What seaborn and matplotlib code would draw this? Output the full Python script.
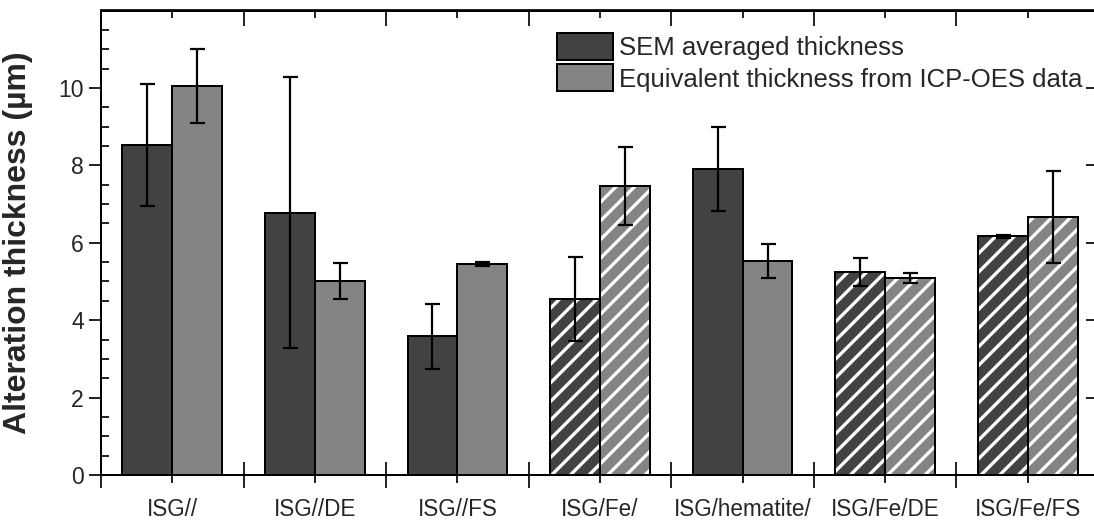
import numpy as np
import pandas as pd
import matplotlib
matplotlib.use("Agg")
import matplotlib.pyplot as plt
import seaborn as sns
from matplotlib.patches import Rectangle, Patch

# ---------------- data ----------------
categories = ["ISG//", "ISG//DE", "ISG//FS", "ISG/Fe/", "ISG/hematite/", "ISG/Fe/DE", "ISG/Fe/FS"]
series_names = ["SEM averaged thickness", "Equivalent thickness from ICP-OES data"]
sem_values = [8.52, 6.78, 3.59, 4.54, 7.90, 5.25, 6.17]
sem_errors = [1.57, 3.49, 0.84, 1.08, 1.08, 0.36, 0.04]
icp_values = [10.05, 5.01, 5.46, 7.46, 5.52, 5.09, 6.66]
icp_errors = [0.95, 0.46, 0.05, 1.01, 0.44, 0.12, 1.19]
hatched_categories = ["ISG/Fe/", "ISG/Fe/DE", "ISG/Fe/FS"]
y_ticks = [0, 2, 4, 6, 8, 10]
colors = ["#424242", "#848484"]

# ---------------- figure setup ----------------
DPI = 168
W, H = 1094, 521


def P(px):
    return px * 72.0 / DPI


sns.set_style("white")
plt.rcParams["font.family"] = ["Liberation Sans", "DejaVu Sans"]
plt.rcParams["hatch.linewidth"] = P(3.3)

fig = plt.figure(figsize=(W / DPI, H / DPI), dpi=DPI)
ax = fig.add_axes([101 / W, 46 / H, 998 / W, 464.5 / H])

df = pd.DataFrame({
    "category": categories * 2,
    "series": [series_names[0]] * len(categories) + [series_names[1]] * len(categories),
    "value": sem_values + icp_values,
})

sns.barplot(data=df, x="category", y="value", hue="series", order=categories,
            hue_order=series_names, palette=colors, saturation=1, width=0.7,
            errorbar=None, edgecolor="black", linewidth=P(2), legend=False, ax=ax)

# hatching (white stripes) on Fe samples
for h in range(2):
    for i, p in enumerate(ax.containers[h]):
        if categories[i] in hatched_categories:
            p.set_hatch("///")
            p.set_edgecolor("white")
            p.set_linewidth(0)
            outline = Rectangle((p.get_x(), p.get_y()), p.get_width(), p.get_height(),
                                fill=False, edgecolor="black", linewidth=P(2), zorder=p.get_zorder() + 0.1)
            ax.add_patch(outline)

# error bars
for h, (vals, errs) in enumerate([(sem_values, sem_errors), (icp_values, icp_errors)]):
    xs = [p.get_x() + p.get_width() / 2 for p in ax.containers[h]]
    ax.errorbar(xs, vals, yerr=errs, fmt="none", ecolor="black", elinewidth=P(2.2),
                capsize=P(7.5), capthick=P(2.2), zorder=5)

# axes limits
ax.set_xlim(-0.5, len(categories) - 0.5)
ax.set_ylim(0, 12)

for s in ax.spines.values():
    s.set_linewidth(P(2))
    s.set_color("black")
    s.set_visible(True)

# x ticks: boundaries (major, no labels) and centers (minor, labels)
ax.set_xticks(np.arange(-0.5, len(categories), 1.0))
ax.set_xticklabels([])
ax.set_xticks(np.arange(len(categories)), minor=True)
ax.set_xticklabels(categories, minor=True, fontsize=P(22.5))
ax.tick_params(axis="x", which="major", direction="inout", length=P(26), width=P(2), bottom=True)
ax.tick_params(axis="x", which="minor", direction="out", length=P(8), width=P(2), pad=P(15), bottom=True)
ax.set_xlabel("")

# y ticks
ax.set_yticks(y_ticks)
ax.set_yticklabels([str(t) for t in y_ticks], fontsize=P(23))
minor_y = np.arange(0.5, 12.01, 0.5)
ax.set_yticks(minor_y[np.mod(minor_y, 2) != 0], minor=True)
ax.tick_params(axis="y", which="major", direction="out", length=P(12), width=P(2), pad=P(5), left=True)
ax.tick_params(axis="y", which="minor", direction="in", length=P(8), width=P(2), left=True)
ax.set_ylabel("Alteration thickness (µm)", fontsize=P(32), fontweight="bold")
ax.yaxis.set_label_coords(-0.068, 0.5)

# top axis ticks (inward)
top = ax.secondary_xaxis("top")
top.set_xticks(np.arange(-0.5, len(categories), 1.0))
top.set_xticks(np.arange(len(categories)), minor=True)
top.tick_params(which="major", direction="in", length=P(16), width=P(2), labeltop=False)
top.tick_params(which="minor", direction="in", length=P(8), width=P(2), labeltop=False)
top.spines["top"].set_linewidth(P(2))

# right axis ticks (inward)
right = ax.secondary_yaxis("right")
right.set_yticks(y_ticks + [12])
right.set_yticks(np.arange(0.5, 12, 0.5), minor=True)
right.tick_params(which="major", direction="in", length=P(13), width=P(2), labelright=False)
right.tick_params(which="minor", direction="in", length=P(5), width=P(2), labelright=False)

# legend
handles = [Patch(facecolor=c, edgecolor="black", linewidth=P(2)) for c in colors]
fig.legend(handles, series_names, loc="upper left", bbox_to_anchor=(557 / W, 1 - 33 / H),
           frameon=False, fontsize=P(25.8), borderpad=0, borderaxespad=0,
           handlelength=2.17, handleheight=1.25, handletextpad=0.25, labelspacing=0.15)

fig.savefig("out.png", dpi=DPI)
